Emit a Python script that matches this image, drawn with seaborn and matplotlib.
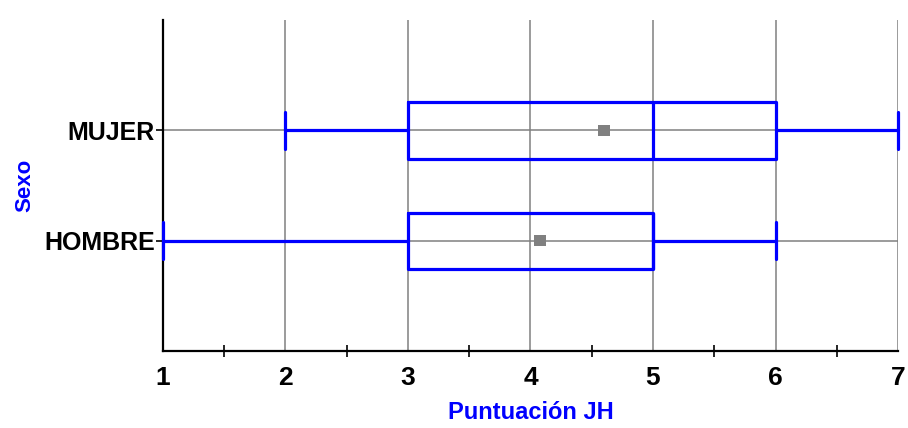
import matplotlib
matplotlib.use("Agg")
import matplotlib.pyplot as plt
from matplotlib.ticker import MultipleLocator
import seaborn as sns
import pandas as pd

# Summary statistics of the score by sex
categorias = ["MUJER", "HOMBRE"]
minimo = [2, 1]
q1 = [3, 3]
mediana = [5, 5]
q3 = [6, 5]
maximo = [7, 6]
media = [4.6, 4.08]

sns.set_style("white")
plt.rcParams["font.family"] = ["Liberation Sans Narrow", "Liberation Sans", "DejaVu Sans"]

fig = plt.figure(figsize=(9.08, 4.28), dpi=100)
ax = fig.add_axes([0.1795, 0.180, 0.8095, 0.773])

azul = "#0000FF"
gris = "#808080"

stats = [
    dict(label=c, whislo=lo, q1=a, med=m, q3=b, whishi=hi, fliers=[])
    for c, lo, a, m, b, hi in zip(categorias, minimo, q1, mediana, q3, maximo)
]
pos = list(range(len(categorias)))
lw = 2.3
arts = ax.bxp(stats, positions=pos, vert=False, widths=0.51, showfliers=False,
              boxprops=dict(color=azul, linewidth=lw),
              medianprops=dict(color=azul, linewidth=lw),
              whiskerprops=dict(color=azul, linewidth=lw),
              capprops=dict(color=azul, linewidth=lw),
              capwidths=0.33, manage_ticks=False, zorder=3)
for group in arts.values():
    for a in group:
        a.set_clip_on(False)

df = pd.DataFrame({"Sexo": categorias, "Media": media, "pos": pos})
sns.scatterplot(data=df, x="Media", y="pos", ax=ax, marker="s", s=70,
                color=gris, edgecolor="none", zorder=4, legend=False)

ax.set_xlim(1, 7)
ax.set_ylim(2, -1)
ax.set_yticks(pos)
ax.set_yticklabels(categorias)
ax.xaxis.set_major_locator(MultipleLocator(1))
ax.xaxis.set_minor_locator(MultipleLocator(0.5))

ax.grid(True, axis="x", which="major", color=gris, linewidth=1.1, zorder=0)
ax.grid(True, axis="y", which="major", color=gris, linewidth=1.1, zorder=0)
ax.set_axisbelow(True)

for s in ["top", "right"]:
    ax.spines[s].set_visible(False)
for s in ["left", "bottom"]:
    ax.spines[s].set_color("black")
    ax.spines[s].set_linewidth(1.6)

ax.tick_params(axis="x", which="major", direction="inout", length=9, width=1.4,
               labelsize=19, pad=6, colors="black")
ax.tick_params(axis="x", which="minor", direction="inout", length=8, width=1.4,
               bottom=True)
ax.tick_params(axis="y", which="major", direction="out", length=5, width=1.2,
               labelsize=18, pad=1, left=True, colors="black")
for t in ax.get_xticklabels() + ax.get_yticklabels():
    t.set_fontweight("bold")

ax.set_xlabel("Puntuación JH", color=azul, fontsize=17, fontweight="bold", labelpad=8)
ax.set_ylabel("Sexo", color=azul, fontsize=16, fontweight="bold", labelpad=6)

fig.savefig("out.png", dpi=100)
